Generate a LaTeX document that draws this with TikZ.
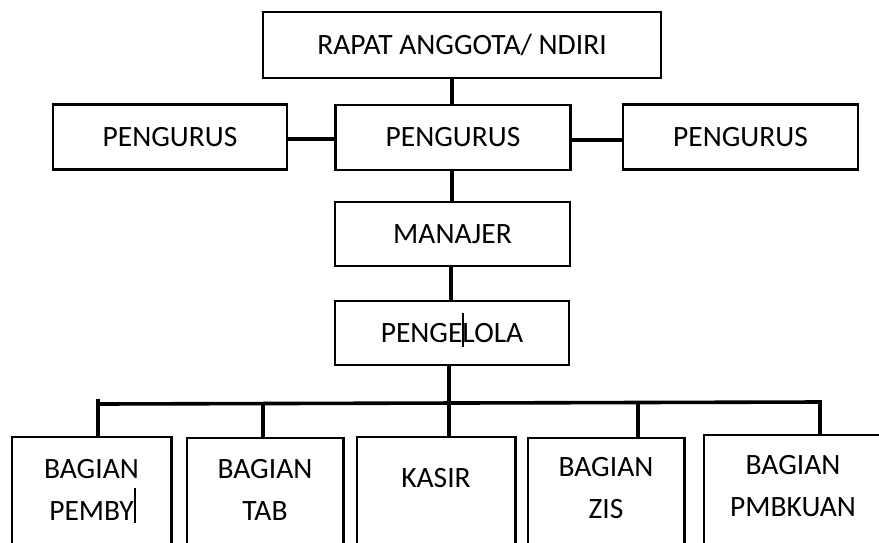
\documentclass[tikz,border=0pt]{standalone}
\usepackage{fontspec}
\setmainfont{Carlito}
\begin{document}
\begin{tikzpicture}[x=1pt,y=-1pt,
  box/.style={draw,line width=2.4pt,minimum width=#1,minimum height=65pt,inner sep=0pt,
    font=\fontsize{29.5}{34}\selectfont},
  box/.default=235pt,
  openbox/.style={inner sep=0pt,minimum height=130pt,minimum width=#1,anchor=north west},
  lbl/.style={align=center,inner sep=0pt,font=\fontsize{29.5}{42}\selectfont},
  conn/.style={line width=3.6pt},
  side/.style={line width=2.4pt},
  cursor/.style={line width=1.2pt}]
\useasboundingbox (0,0) rectangle (879,542);
% upper part
\node[box=398pt,minimum height=66pt] (top) at (462,45) {RAPAT ANGGOTA/ NDIRI};
\node[box] (cp) at (453,137.5) {PENGURUS};
\node[box=234pt] (lp) at (170,137) {PENGURUS};
\node[box] (rp) at (740.5,137) {PENGURUS};
\node[box,minimum height=64pt] (mj) at (452.5,234) {MANAJER};
\node[box=234pt,minimum height=64pt] (pg) at (452,333) {PENGELOLA};
% bottom boxes (open at the bottom)
\node[openbox=159pt] (b1) at (12,437) {};
\node[openbox=156pt] (b2) at (187,438) {};
\node[openbox=158pt] (b3) at (357,437) {};
\node[openbox=156pt] (b4) at (528,438) {};
\node[openbox=180pt] (b5) at (704,435) {};
\foreach \b in {b1,b2,b3,b4,b5}
  \draw[side] (\b.south west) |- (\b.north east) -- (\b.south east);
\node[lbl] (t1) at (91.5,490) {BAGIAN\\PEMBY};
\node[lbl] (t2) at (265,490) {BAGIAN\\TAB};
\node[lbl] (t3) at (436,478) {KASIR};
\node[lbl] (t4) at (606,488) {BAGIAN\\ZIS};
\node[lbl] (t5) at (793,486) {BAGIAN\\PMBKUAN};
% connectors
\draw[conn] (top.south -| 452,0) -- (cp.north -| 452,0);
\draw[conn] (lp.east |- 0,139) -- (cp.west |- 0,139);
\draw[conn] (cp.east |- 0,140) -- (rp.west |- 0,140);
\draw[conn] (cp.south -| 452,0) -- (mj.north -| 452,0);
\draw[conn] (mj.south -| 451,0) -- (pg.north -| 451,0);
\coordinate (c1) at (98,404);
\coordinate (c2) at (263,404);
\coordinate (c3) at (449,403);
\coordinate (c4) at (638,402);
\coordinate (c5) at (820,402);
\draw[conn] (pg.south -| c3) -- (c3);
\draw[conn,line cap=rect] (c1) -- (c5);
\draw[conn] (c1 |- 0,399) -- (c1 |- b1.north);
\draw[conn] (c2) -- (c2 |- b2.north);
\draw[conn] (c3) -- (c3 |- b3.north);
\draw[conn] (c4) -- (c4 |- b4.north);
\draw[conn] (c5) -- (c5 |- b5.north);
% text cursors
\draw[cursor] (463,313) -- (463,347);
\draw[cursor] (135,488) -- (135,523);
\end{tikzpicture}
\end{document}
